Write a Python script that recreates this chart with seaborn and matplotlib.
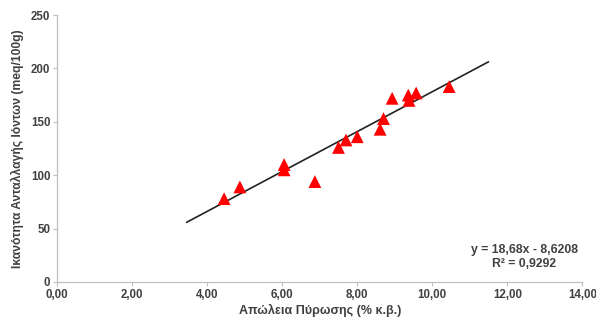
import numpy as np
import pandas as pd
import seaborn as sns
import matplotlib.pyplot as plt
from matplotlib.ticker import FuncFormatter

# data
apoleia = [4.45, 4.87, 6.05, 6.05, 6.87, 7.50, 7.70, 8.00, 8.61, 8.70, 8.93, 9.36, 9.38, 9.57, 10.45]
cec = [78, 89, 110, 105, 94, 126, 133, 136, 143, 153, 172, 175, 170, 177, 183]
slope, intercept = 18.68, -8.6208
trend_x = [3.45, 11.5]

sns.set_style("white")
plt.rcParams["font.family"] = ["Liberation Sans", "DejaVu Sans"]

df = pd.DataFrame({"x": apoleia, "y": cec})

fig = plt.figure(figsize=(5.96, 3.2), dpi=100)
ax = fig.add_axes([0.096, 0.119, 0.881, 0.834])

tx = np.array(trend_x)
ax.plot(tx, slope * tx + intercept, color="#222222", lw=1.2, zorder=2)
sns.scatterplot(data=df, x="x", y="y", marker="^", color="#ff0000", s=85,
                edgecolor="none", ax=ax, zorder=3)

ax.set_xlim(0, 14)
ax.set_ylim(0, 250)
ax.set_xticks(np.arange(0, 15, 2))
ax.set_yticks(np.arange(0, 251, 50))
ax.xaxis.set_major_formatter(FuncFormatter(lambda v, p: f"{v:.2f}".replace(".", ",")))

for s in ["top", "right"]:
    ax.spines[s].set_visible(False)
for s in ["left", "bottom"]:
    ax.spines[s].set_color("#bfbfbf")
    ax.spines[s].set_linewidth(0.9)
ax.tick_params(axis="both", length=3, color="#bfbfbf", labelsize=8.3,
               labelcolor="#404040", pad=2, direction="out", left=True, bottom=True)
for lab in ax.get_xticklabels() + ax.get_yticklabels():
    lab.set_fontweight("bold")

ax.set_xlabel("Απώλεια Πύρωσης (% κ.β.)", fontsize=9, fontweight="bold", color="#404040", labelpad=2)
ax.set_ylabel("Ικανότητα Ανταλλαγής Ιόντων (meq/100g)", fontsize=8.7, fontweight="bold",
              color="#404040", labelpad=5)

ax.text(12.45, 23, "y = 18,68x - 8,6208\nR² = 0,9292", ha="center", va="center",
        fontsize=8.8, fontweight="bold", color="#404040", linespacing=1.2)

fig.savefig("out.png", dpi=100)
